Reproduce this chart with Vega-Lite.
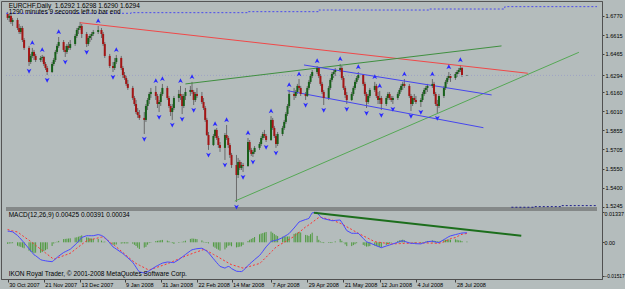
{
"$schema":"https://vega.github.io/schema/vega-lite/v6.json",
"width":601,"height":278,
"autosize":{"type":"none"},
"padding":{"left":1,"top":1,"right":23,"bottom":10},
"background":"#b4bcbc",
"config":{
 "view":{"stroke":"#555555","strokeWidth":1,"fill":null},
 "font":"Liberation Sans",
 "axis":{"labelFont":"Liberation Sans","labelFontSize":5.6,"labelColor":"#000000","domainColor":"#505050","tickColor":"#404040","tickSize":3,"grid":false,"title":null}
},
"datasets":{
"bars":[
{"d":"2007-10-30","o":1.6784,"h":1.6800,"l":1.6736,"c":1.6752,"m":0.00499,"s":0.00570,"hs":-0.00071},
{"d":"2007-10-31","o":1.6752,"h":1.6784,"l":1.6720,"c":1.6768,"m":0.00490,"s":0.00544,"hs":-0.00054},
{"d":"2007-11-01","o":1.6768,"h":1.6791,"l":1.6704,"c":1.6720,"m":0.00477,"s":0.00526,"hs":-0.00049},
{"d":"2007-11-02","o":1.6720,"h":1.6752,"l":1.6688,"c":1.6736,"m":0.00468,"s":0.00508,"hs":-0.00040},
{"d":"2007-11-05","o":1.6736,"h":1.6752,"l":1.6656,"c":1.6672,"m":0.00307,"s":0.00459,"hs":-0.00152},
{"d":"2007-11-06","o":1.6672,"h":1.6704,"l":1.6624,"c":1.6640,"m":0.00227,"s":0.00410,"hs":-0.00183},
{"d":"2007-11-07","o":1.6640,"h":1.6688,"l":1.6624,"c":1.6672,"m":0.00147,"s":0.00352,"hs":-0.00205},
{"d":"2007-11-08","o":1.6672,"h":1.6688,"l":1.6560,"c":1.6576,"m":0.00062,"s":0.00299,"hs":-0.00237},
{"d":"2007-11-09","o":1.6576,"h":1.6592,"l":1.6497,"c":1.6513,"m":-0.00022,"s":0.00245,"hs":-0.00267},
{"d":"2007-11-12","o":1.6513,"h":1.6529,"l":1.6369,"c":1.6401,"m":-0.00290,"s":0.00089,"hs":-0.00379,"f":"d"},
{"d":"2007-11-13","o":1.6401,"h":1.6465,"l":1.6385,"c":1.6449,"m":-0.00379,"s":0.00036,"hs":-0.00415},
{"d":"2007-11-14","o":1.6449,"h":1.6513,"l":1.6433,"c":1.6481,"m":-0.00463,"s":-0.00018,"hs":-0.00445,"f":"u"},
{"d":"2007-11-15","o":1.6481,"h":1.6497,"l":1.6417,"c":1.6449,"m":-0.00557,"s":-0.00071,"hs":-0.00486},
{"d":"2007-11-16","o":1.6449,"h":1.6465,"l":1.6401,"c":1.6417,"m":-0.00597,"s":-0.00134,"hs":-0.00463},
{"d":"2007-11-19","o":1.6417,"h":1.6449,"l":1.6401,"c":1.6433,"m":-0.00771,"s":-0.00303,"hs":-0.00468},
{"d":"2007-11-20","o":1.6433,"h":1.6457,"l":1.6401,"c":1.6441,"m":-0.00798,"s":-0.00361,"hs":-0.00437,"f":"u"},
{"d":"2007-11-21","o":1.6441,"h":1.6449,"l":1.6369,"c":1.6385,"m":-0.00811,"s":-0.00419,"hs":-0.00392},
{"d":"2007-11-22","o":1.6385,"h":1.6401,"l":1.6337,"c":1.6353,"m":-0.00824,"s":-0.00472,"hs":-0.00352},
{"d":"2007-11-23","o":1.6353,"h":1.6369,"l":1.6297,"c":1.6321,"m":-0.00838,"s":-0.00530,"hs":-0.00308,"f":"d"},
{"d":"2007-11-26","o":1.6321,"h":1.6401,"l":1.6313,"c":1.6385,"m":-0.00864,"s":-0.00700,"hs":-0.00164},
{"d":"2007-11-27","o":1.6385,"h":1.6433,"l":1.6369,"c":1.6417,"m":-0.00807,"s":-0.00753,"hs":-0.00054},
{"d":"2007-11-28","o":1.6417,"h":1.6497,"l":1.6401,"c":1.6481,"m":-0.00744,"s":-0.00731,"hs":-0.00013},
{"d":"2007-11-29","o":1.6481,"h":1.6544,"l":1.6465,"c":1.6529,"m":-0.00677,"s":-0.00704,"hs":0.00027},
{"d":"2007-11-30","o":1.6529,"h":1.6600,"l":1.6513,"c":1.6560,"m":-0.00615,"s":-0.00677,"hs":0.00062,"f":"u"},
{"d":"2007-12-03","o":1.6560,"h":1.6576,"l":1.6481,"c":1.6497,"m":-0.00455,"s":-0.00597,"hs":0.00142},
{"d":"2007-12-04","o":1.6497,"h":1.6529,"l":1.6441,"c":1.6481,"m":-0.00419,"s":-0.00570,"hs":0.00151,"f":"d"},
{"d":"2007-12-05","o":1.6481,"h":1.6544,"l":1.6465,"c":1.6529,"m":-0.00383,"s":-0.00544,"hs":0.00161},
{"d":"2007-12-06","o":1.6529,"h":1.6560,"l":1.6497,"c":1.6513,"m":-0.00348,"s":-0.00517,"hs":0.00169},
{"d":"2007-12-07","o":1.6513,"h":1.6576,"l":1.6497,"c":1.6544,"m":-0.00312,"s":-0.00490,"hs":0.00178},
{"d":"2007-12-10","o":1.6544,"h":1.6624,"l":1.6529,"c":1.6608,"m":-0.00111,"s":-0.00321,"hs":0.00210},
{"d":"2007-12-11","o":1.6608,"h":1.6672,"l":1.6592,"c":1.6656,"m":-0.00040,"s":-0.00263,"hs":0.00223},
{"d":"2007-12-12","o":1.6656,"h":1.6688,"l":1.6624,"c":1.6672,"m":0.00045,"s":-0.00205,"hs":0.00250},
{"d":"2007-12-13","o":1.6672,"h":1.6720,"l":1.6656,"c":1.6688,"m":0.00125,"s":-0.00152,"hs":0.00277},
{"d":"2007-12-14","o":1.6688,"h":1.6704,"l":1.6592,"c":1.6624,"m":0.00214,"s":-0.00094,"hs":0.00308},
{"d":"2007-12-17","o":1.6624,"h":1.6640,"l":1.6520,"c":1.6544,"m":0.00294,"s":0.00071,"hs":0.00223,"f":"d"},
{"d":"2007-12-18","o":1.6544,"h":1.6608,"l":1.6529,"c":1.6592,"m":0.00294,"s":0.00089,"hs":0.00205},
{"d":"2007-12-19","o":1.6592,"h":1.6624,"l":1.6560,"c":1.6608,"m":0.00294,"s":0.00107,"hs":0.00187},
{"d":"2007-12-20","o":1.6608,"h":1.6640,"l":1.6576,"c":1.6624,"m":0.00294,"s":0.00125,"hs":0.00169},
{"d":"2007-12-21","o":1.6624,"h":1.6656,"l":1.6608,"c":1.6640,"m":0.00294,"s":0.00143,"hs":0.00151},
{"d":"2007-12-24","o":1.6640,"h":1.6688,"l":1.6624,"c":1.6656,"m":0.00343,"s":0.00196,"hs":0.00147,"f":"u"},
{"d":"2007-12-26","o":1.6656,"h":1.6672,"l":1.6592,"c":1.6624,"m":0.00307,"s":0.00232,"hs":0.00075},
{"d":"2007-12-27","o":1.6624,"h":1.6640,"l":1.6529,"c":1.6544,"m":0.00263,"s":0.00241,"hs":0.00022},
{"d":"2007-12-28","o":1.6544,"h":1.6560,"l":1.6433,"c":1.6449,"m":0.00218,"s":0.00187,"hs":0.00031},
{"d":"2007-12-31","o":1.6449,"h":1.6465,"l":1.6353,"c":1.6369,"m":-0.00022,"s":0.00018,"hs":-0.00040},
{"d":"2008-01-02","o":1.6369,"h":1.6401,"l":1.6321,"c":1.6353,"m":-0.00205,"s":-0.00094,"hs":-0.00111,"f":"d"},
{"d":"2008-01-03","o":1.6353,"h":1.6433,"l":1.6337,"c":1.6401,"m":-0.00250,"s":-0.00147,"hs":-0.00103},
{"d":"2008-01-04","o":1.6401,"h":1.6457,"l":1.6385,"c":1.6433,"m":-0.00303,"s":-0.00205,"hs":-0.00098,"f":"u"},
{"d":"2008-01-07","o":1.6433,"h":1.6449,"l":1.6337,"c":1.6353,"m":-0.00450,"s":-0.00392,"hs":-0.00058},
{"d":"2008-01-08","o":1.6353,"h":1.6369,"l":1.6273,"c":1.6297,"m":-0.00499,"s":-0.00455,"hs":-0.00044},
{"d":"2008-01-09","o":1.6297,"h":1.6321,"l":1.6258,"c":1.6273,"m":-0.00566,"s":-0.00517,"hs":-0.00049},
{"d":"2008-01-10","o":1.6273,"h":1.6289,"l":1.6210,"c":1.6226,"m":-0.00628,"s":-0.00579,"hs":-0.00049},
{"d":"2008-01-11","o":1.6226,"h":1.6258,"l":1.6178,"c":1.6194,"m":-0.00691,"s":-0.00642,"hs":-0.00049},
{"d":"2008-01-14","o":1.6194,"h":1.6210,"l":1.6098,"c":1.6114,"m":-0.00891,"s":-0.00829,"hs":-0.00062},
{"d":"2008-01-15","o":1.6114,"h":1.6130,"l":1.6050,"c":1.6066,"m":-0.00998,"s":-0.00887,"hs":-0.00111},
{"d":"2008-01-16","o":1.6066,"h":1.6098,"l":1.5986,"c":1.6002,"m":-0.01110,"s":-0.00945,"hs":-0.00165},
{"d":"2008-01-17","o":1.6002,"h":1.6034,"l":1.5955,"c":1.5978,"m":-0.01225,"s":-0.00985,"hs":-0.00240},
{"d":"2008-01-18","o":1.5978,"h":1.6018,"l":1.5939,"c":1.5955,"m":-0.01319,"s":-0.01020,"hs":-0.00299},
{"d":"2008-01-21","o":1.5955,"h":1.6002,"l":1.5827,"c":1.5939,"m":-0.01368,"s":-0.01132,"hs":-0.00236,"f":"d"},
{"d":"2008-01-22","o":1.5939,"h":1.6066,"l":1.5923,"c":1.6050,"m":-0.01377,"s":-0.01172,"hs":-0.00205},
{"d":"2008-01-23","o":1.6050,"h":1.6114,"l":1.6018,"c":1.6098,"m":-0.01315,"s":-0.01208,"hs":-0.00107},
{"d":"2008-01-24","o":1.6098,"h":1.6162,"l":1.6066,"c":1.6146,"m":-0.01270,"s":-0.01234,"hs":-0.00036},
{"d":"2008-01-25","o":1.6146,"h":1.6194,"l":1.6114,"c":1.6162,"m":-0.01221,"s":-0.01203,"hs":-0.00018},
{"d":"2008-01-28","o":1.6162,"h":1.6210,"l":1.6098,"c":1.6130,"m":-0.01078,"s":-0.01132,"hs":0.00054,"f":"u"},
{"d":"2008-01-29","o":1.6130,"h":1.6146,"l":1.6034,"c":1.6066,"m":-0.01038,"s":-0.01105,"hs":0.00067},
{"d":"2008-01-30","o":1.6066,"h":1.6098,"l":1.6002,"c":1.6082,"m":-0.01003,"s":-0.01083,"hs":0.00080,"f":"d"},
{"d":"2008-01-31","o":1.6082,"h":1.6162,"l":1.6050,"c":1.6146,"m":-0.00963,"s":-0.01056,"hs":0.00093},
{"d":"2008-02-01","o":1.6146,"h":1.6226,"l":1.6130,"c":1.6194,"m":-0.00927,"s":-0.01034,"hs":0.00107,"f":"u"},
{"d":"2008-02-04","o":1.6194,"h":1.6210,"l":1.6098,"c":1.6114,"m":-0.00878,"s":-0.00954,"hs":0.00076},
{"d":"2008-02-05","o":1.6114,"h":1.6130,"l":1.6034,"c":1.6050,"m":-0.00882,"s":-0.00927,"hs":0.00045},
{"d":"2008-02-06","o":1.6050,"h":1.6066,"l":1.5970,"c":1.6002,"m":-0.00891,"s":-0.00896,"hs":0.00005},
{"d":"2008-02-07","o":1.6002,"h":1.6066,"l":1.5939,"c":1.6034,"m":-0.00900,"s":-0.00864,"hs":-0.00036,"f":"d"},
{"d":"2008-02-08","o":1.6034,"h":1.6130,"l":1.6018,"c":1.6114,"m":-0.00905,"s":-0.00833,"hs":-0.00072},
{"d":"2008-02-11","o":1.6114,"h":1.6178,"l":1.6082,"c":1.6146,"m":-0.00771,"s":-0.00740,"hs":-0.00031},
{"d":"2008-02-12","o":1.6146,"h":1.6210,"l":1.6098,"c":1.6130,"m":-0.00713,"s":-0.00709,"hs":-0.00004,"f":"u"},
{"d":"2008-02-13","o":1.6130,"h":1.6146,"l":1.5986,"c":1.6050,"m":-0.00655,"s":-0.00677,"hs":0.00022,"f":"d"},
{"d":"2008-02-14","o":1.6050,"h":1.6146,"l":1.6034,"c":1.6130,"m":-0.00602,"s":-0.00646,"hs":0.00044},
{"d":"2008-02-15","o":1.6130,"h":1.6194,"l":1.6098,"c":1.6162,"m":-0.00544,"s":-0.00615,"hs":0.00071},
{"d":"2008-02-18","o":1.6162,"h":1.6210,"l":1.6130,"c":1.6178,"m":-0.00379,"s":-0.00530,"hs":0.00151},
{"d":"2008-02-19","o":1.6178,"h":1.6242,"l":1.6146,"c":1.6162,"m":-0.00334,"s":-0.00504,"hs":0.00170,"f":"u"},
{"d":"2008-02-20","o":1.6162,"h":1.6178,"l":1.6058,"c":1.6098,"m":-0.00316,"s":-0.00477,"hs":0.00161,"f":"d"},
{"d":"2008-02-21","o":1.6098,"h":1.6162,"l":1.6082,"c":1.6146,"m":-0.00299,"s":-0.00450,"hs":0.00151},
{"d":"2008-02-22","o":1.6146,"h":1.6194,"l":1.6114,"c":1.6130,"m":-0.00285,"s":-0.00428,"hs":0.00143},
{"d":"2008-02-25","o":1.6130,"h":1.6162,"l":1.6066,"c":1.6082,"m":-0.00263,"s":-0.00348,"hs":0.00085},
{"d":"2008-02-26","o":1.6082,"h":1.6114,"l":1.6018,"c":1.6034,"m":-0.00303,"s":-0.00325,"hs":0.00022},
{"d":"2008-02-27","o":1.6034,"h":1.6050,"l":1.5923,"c":1.5939,"m":-0.00352,"s":-0.00330,"hs":-0.00022},
{"d":"2008-02-28","o":1.5939,"h":1.5955,"l":1.5811,"c":1.5819,"m":-0.00397,"s":-0.00370,"hs":-0.00027},
{"d":"2008-02-29","o":1.5819,"h":1.5843,"l":1.5700,"c":1.5739,"m":-0.00463,"s":-0.00414,"hs":-0.00049,"f":"d"},
{"d":"2008-03-03","o":1.5739,"h":1.5827,"l":1.5731,"c":1.5811,"m":-0.00731,"s":-0.00539,"hs":-0.00192},
{"d":"2008-03-04","o":1.5811,"h":1.5867,"l":1.5795,"c":1.5859,"m":-0.00820,"s":-0.00579,"hs":-0.00241,"f":"u"},
{"d":"2008-03-05","o":1.5859,"h":1.5875,"l":1.5779,"c":1.5795,"m":-0.00909,"s":-0.00619,"hs":-0.00290},
{"d":"2008-03-06","o":1.5795,"h":1.5811,"l":1.5716,"c":1.5739,"m":-0.00989,"s":-0.00659,"hs":-0.00330},
{"d":"2008-03-07","o":1.5739,"h":1.5763,"l":1.5684,"c":1.5716,"m":-0.01074,"s":-0.00704,"hs":-0.00370},
{"d":"2008-03-10","o":1.5716,"h":1.5835,"l":1.5620,"c":1.5819,"m":-0.01150,"s":-0.00833,"hs":-0.00317,"f":"d"},
{"d":"2008-03-11","o":1.5819,"h":1.5899,"l":1.5779,"c":1.5795,"m":-0.01110,"s":-0.00873,"hs":-0.00237,"f":"u"},
{"d":"2008-03-12","o":1.5795,"h":1.5811,"l":1.5716,"c":1.5739,"m":-0.01074,"s":-0.00918,"hs":-0.00156},
{"d":"2008-03-13","o":1.5739,"h":1.5755,"l":1.5636,"c":1.5660,"m":-0.01101,"s":-0.00963,"hs":-0.00138},
{"d":"2008-03-14","o":1.5660,"h":1.5676,"l":1.5556,"c":1.5580,"m":-0.01172,"s":-0.00994,"hs":-0.00178},
{"d":"2008-03-17","o":1.5580,"h":1.5660,"l":1.5285,"c":1.5500,"m":-0.01288,"s":-0.01061,"hs":-0.00227,"f":"d"},
{"d":"2008-03-18","o":1.5500,"h":1.5636,"l":1.5476,"c":1.5604,"m":-0.01297,"s":-0.01083,"hs":-0.00214},
{"d":"2008-03-19","o":1.5604,"h":1.5620,"l":1.5540,"c":1.5556,"m":-0.01301,"s":-0.01105,"hs":-0.00196},
{"d":"2008-03-20","o":1.5556,"h":1.5604,"l":1.5540,"c":1.5580,"m":-0.01306,"s":-0.01127,"hs":-0.00179},
{"d":"2008-03-21","o":1.5580,"h":1.5596,"l":1.5524,"c":1.5572,"m":-0.01266,"s":-0.01150,"hs":-0.00116,"f":"d"},
{"d":"2008-03-24","o":1.5572,"h":1.5795,"l":1.5564,"c":1.5763,"m":-0.01038,"s":-0.01096,"hs":0.00058,"f":"u"},
{"d":"2008-03-25","o":1.5763,"h":1.5779,"l":1.5684,"c":1.5700,"m":-0.00963,"s":-0.01074,"hs":0.00111},
{"d":"2008-03-26","o":1.5700,"h":1.5716,"l":1.5652,"c":1.5668,"m":-0.00900,"s":-0.01052,"hs":0.00152},
{"d":"2008-03-27","o":1.5668,"h":1.5700,"l":1.5644,"c":1.5684,"m":-0.00838,"s":-0.01029,"hs":0.00191,"f":"d"},
{"d":"2008-03-28","o":1.5684,"h":1.5731,"l":1.5668,"c":1.5716,"m":-0.00771,"s":-0.01007,"hs":0.00236},
{"d":"2008-03-31","o":1.5716,"h":1.5763,"l":1.5700,"c":1.5747,"m":-0.00588,"s":-0.00945,"hs":0.00357},
{"d":"2008-04-01","o":1.5747,"h":1.5811,"l":1.5731,"c":1.5795,"m":-0.00499,"s":-0.00887,"hs":0.00388},
{"d":"2008-04-02","o":1.5795,"h":1.5843,"l":1.5779,"c":1.5827,"m":-0.00401,"s":-0.00811,"hs":0.00410},
{"d":"2008-04-03","o":1.5827,"h":1.5859,"l":1.5795,"c":1.5811,"m":-0.00299,"s":-0.00735,"hs":0.00436},
{"d":"2008-04-04","o":1.5811,"h":1.5827,"l":1.5763,"c":1.5779,"m":-0.00205,"s":-0.00664,"hs":0.00459,"f":"d"},
{"d":"2008-04-07","o":1.5779,"h":1.5970,"l":1.5771,"c":1.5939,"m":0.00040,"s":-0.00437,"hs":0.00477,"f":"u"},
{"d":"2008-04-08","o":1.5939,"h":1.5955,"l":1.5859,"c":1.5875,"m":0.00058,"s":-0.00365,"hs":0.00423},
{"d":"2008-04-09","o":1.5875,"h":1.5891,"l":1.5795,"c":1.5811,"m":0.00076,"s":-0.00290,"hs":0.00366},
{"d":"2008-04-10","o":1.5811,"h":1.5827,"l":1.5716,"c":1.5747,"m":0.00094,"s":-0.00218,"hs":0.00312,"f":"d"},
{"d":"2008-04-11","o":1.5747,"h":1.5843,"l":1.5731,"c":1.5827,"m":0.00111,"s":-0.00165,"hs":0.00276},
{"d":"2008-04-14","o":1.5827,"h":1.5891,"l":1.5811,"c":1.5875,"m":0.00209,"s":-0.00040,"hs":0.00249},
{"d":"2008-04-15","o":1.5875,"h":1.5939,"l":1.5859,"c":1.5923,"m":0.00258,"s":0.00000,"hs":0.00258},
{"d":"2008-04-16","o":1.5923,"h":1.6002,"l":1.5907,"c":1.5986,"m":0.00299,"s":0.00040,"hs":0.00259},
{"d":"2008-04-17","o":1.5986,"h":1.6066,"l":1.5970,"c":1.6050,"m":0.00343,"s":0.00085,"hs":0.00258},
{"d":"2008-04-18","o":1.6050,"h":1.6178,"l":1.6034,"c":1.6146,"m":0.00392,"s":0.00129,"hs":0.00263,"f":"u"},
{"d":"2008-04-21","o":1.6146,"h":1.6194,"l":1.6098,"c":1.6130,"m":0.00637,"s":0.00263,"hs":0.00374},
{"d":"2008-04-22","o":1.6130,"h":1.6178,"l":1.6114,"c":1.6162,"m":0.00726,"s":0.00325,"hs":0.00401},
{"d":"2008-04-23","o":1.6162,"h":1.6226,"l":1.6146,"c":1.6210,"m":0.00815,"s":0.00383,"hs":0.00432},
{"d":"2008-04-24","o":1.6210,"h":1.6265,"l":1.6178,"c":1.6194,"m":0.00905,"s":0.00446,"hs":0.00459,"f":"u"},
{"d":"2008-04-25","o":1.6194,"h":1.6210,"l":1.6130,"c":1.6146,"m":0.00936,"s":0.00499,"hs":0.00437},
{"d":"2008-04-28","o":1.6146,"h":1.6162,"l":1.6098,"c":1.6130,"m":0.01016,"s":0.00686,"hs":0.00330,"f":"d"},
{"d":"2008-04-29","o":1.6130,"h":1.6210,"l":1.6122,"c":1.6194,"m":0.01038,"s":0.00726,"hs":0.00312},
{"d":"2008-04-30","o":1.6194,"h":1.6258,"l":1.6178,"c":1.6242,"m":0.01065,"s":0.00780,"hs":0.00285},
{"d":"2008-05-01","o":1.6242,"h":1.6305,"l":1.6226,"c":1.6289,"m":0.01194,"s":0.00833,"hs":0.00361},
{"d":"2008-05-02","o":1.6289,"h":1.6337,"l":1.6273,"c":1.6321,"m":0.01315,"s":0.00887,"hs":0.00428},
{"d":"2008-05-05","o":1.6321,"h":1.6369,"l":1.6305,"c":1.6353,"m":0.01337,"s":0.01052,"hs":0.00285,"f":"u"},
{"d":"2008-05-06","o":1.6353,"h":1.6361,"l":1.6273,"c":1.6289,"m":0.01217,"s":0.01105,"hs":0.00112},
{"d":"2008-05-07","o":1.6289,"h":1.6305,"l":1.6210,"c":1.6226,"m":0.01150,"s":0.01114,"hs":0.00036},
{"d":"2008-05-08","o":1.6226,"h":1.6242,"l":1.6146,"c":1.6162,"m":0.01074,"s":0.01101,"hs":-0.00027},
{"d":"2008-05-09","o":1.6162,"h":1.6178,"l":1.6058,"c":1.6114,"m":0.01052,"s":0.01087,"hs":-0.00035,"f":"d"},
{"d":"2008-05-12","o":1.6114,"h":1.6210,"l":1.6098,"c":1.6194,"m":0.00998,"s":0.01025,"hs":-0.00027},
{"d":"2008-05-13","o":1.6194,"h":1.6273,"l":1.6178,"c":1.6258,"m":0.00980,"s":0.01012,"hs":-0.00032},
{"d":"2008-05-14","o":1.6258,"h":1.6321,"l":1.6242,"c":1.6305,"m":0.00962,"s":0.00994,"hs":-0.00032},
{"d":"2008-05-15","o":1.6305,"h":1.6337,"l":1.6273,"c":1.6321,"m":0.00967,"s":0.00967,"hs":0.00000},
{"d":"2008-05-16","o":1.6321,"h":1.6353,"l":1.6289,"c":1.6337,"m":0.00976,"s":0.00936,"hs":0.00040},
{"d":"2008-05-19","o":1.6337,"h":1.6385,"l":1.6321,"c":1.6353,"m":0.00994,"s":0.00847,"hs":0.00147,"f":"u"},
{"d":"2008-05-20","o":1.6353,"h":1.6369,"l":1.6258,"c":1.6273,"m":0.00882,"s":0.00815,"hs":0.00067},
{"d":"2008-05-21","o":1.6273,"h":1.6289,"l":1.6178,"c":1.6194,"m":0.00766,"s":0.00775,"hs":-0.00009},
{"d":"2008-05-22","o":1.6194,"h":1.6210,"l":1.6114,"c":1.6138,"m":0.00642,"s":0.00735,"hs":-0.00093},
{"d":"2008-05-23","o":1.6138,"h":1.6162,"l":1.6066,"c":1.6098,"m":0.00521,"s":0.00691,"hs":-0.00170,"f":"d"},
{"d":"2008-05-26","o":1.6098,"h":1.6162,"l":1.6090,"c":1.6146,"m":0.00401,"s":0.00570,"hs":-0.00169},
{"d":"2008-05-27","o":1.6146,"h":1.6210,"l":1.6130,"c":1.6194,"m":0.00401,"s":0.00526,"hs":-0.00125},
{"d":"2008-05-28","o":1.6194,"h":1.6258,"l":1.6178,"c":1.6242,"m":0.00401,"s":0.00486,"hs":-0.00085},
{"d":"2008-05-29","o":1.6242,"h":1.6289,"l":1.6226,"c":1.6273,"m":0.00401,"s":0.00441,"hs":-0.00040},
{"d":"2008-05-30","o":1.6273,"h":1.6321,"l":1.6258,"c":1.6297,"m":0.00401,"s":0.00401,"hs":0.00000,"f":"u"},
{"d":"2008-06-02","o":1.6297,"h":1.6305,"l":1.6210,"c":1.6226,"m":0.00174,"s":0.00290,"hs":-0.00116},
{"d":"2008-06-03","o":1.6226,"h":1.6242,"l":1.6130,"c":1.6146,"m":0.00098,"s":0.00250,"hs":-0.00152},
{"d":"2008-06-04","o":1.6146,"h":1.6162,"l":1.6034,"c":1.6082,"m":0.00022,"s":0.00214,"hs":-0.00192,"f":"d"},
{"d":"2008-06-05","o":1.6082,"h":1.6146,"l":1.6066,"c":1.6130,"m":-0.00004,"s":0.00178,"hs":-0.00182},
{"d":"2008-06-06","o":1.6130,"h":1.6194,"l":1.6114,"c":1.6178,"m":-0.00031,"s":0.00138,"hs":-0.00169},
{"d":"2008-06-09","o":1.6178,"h":1.6242,"l":1.6162,"c":1.6210,"m":-0.00120,"s":0.00027,"hs":-0.00147,"f":"u"},
{"d":"2008-06-10","o":1.6210,"h":1.6226,"l":1.6114,"c":1.6130,"m":-0.00152,"s":0.00018,"hs":-0.00170},
{"d":"2008-06-11","o":1.6130,"h":1.6162,"l":1.6066,"c":1.6098,"m":-0.00183,"s":0.00004,"hs":-0.00187},
{"d":"2008-06-12","o":1.6098,"h":1.6170,"l":1.6066,"c":1.6114,"m":-0.00214,"s":-0.00004,"hs":-0.00210,"f":"u"},
{"d":"2008-06-13","o":1.6114,"h":1.6130,"l":1.6018,"c":1.6066,"m":-0.00241,"s":-0.00013,"hs":-0.00228,"f":"d"},
{"d":"2008-06-16","o":1.6066,"h":1.6130,"l":1.6050,"c":1.6114,"m":-0.00165,"s":-0.00045,"hs":-0.00120},
{"d":"2008-06-17","o":1.6114,"h":1.6162,"l":1.6098,"c":1.6146,"m":-0.00143,"s":-0.00053,"hs":-0.00090},
{"d":"2008-06-18","o":1.6146,"h":1.6162,"l":1.6098,"c":1.6114,"m":-0.00120,"s":-0.00062,"hs":-0.00058},
{"d":"2008-06-19","o":1.6114,"h":1.6130,"l":1.6082,"c":1.6098,"m":-0.00094,"s":-0.00076,"hs":-0.00018},
{"d":"2008-06-20","o":1.6098,"h":1.6130,"l":1.6066,"c":1.6114,"m":-0.00071,"s":-0.00071,"hs":0.00000,"f":"d"},
{"d":"2008-06-23","o":1.6114,"h":1.6162,"l":1.6098,"c":1.6146,"m":0.00000,"s":-0.00062,"hs":0.00062},
{"d":"2008-06-24","o":1.6146,"h":1.6194,"l":1.6130,"c":1.6178,"m":0.00027,"s":-0.00058,"hs":0.00085},
{"d":"2008-06-25","o":1.6178,"h":1.6226,"l":1.6162,"c":1.6210,"m":0.00049,"s":-0.00053,"hs":0.00102},
{"d":"2008-06-26","o":1.6210,"h":1.6242,"l":1.6178,"c":1.6226,"m":0.00067,"s":-0.00049,"hs":0.00116},
{"d":"2008-06-27","o":1.6226,"h":1.6265,"l":1.6194,"c":1.6210,"m":0.00045,"s":-0.00045,"hs":0.00090,"f":"u"},
{"d":"2008-06-30","o":1.6210,"h":1.6226,"l":1.6114,"c":1.6130,"m":-0.00027,"s":-0.00040,"hs":0.00013},
{"d":"2008-07-01","o":1.6130,"h":1.6146,"l":1.6010,"c":1.6066,"m":-0.00045,"s":-0.00036,"hs":-0.00009,"f":"d"},
{"d":"2008-07-02","o":1.6066,"h":1.6130,"l":1.6050,"c":1.6114,"m":-0.00049,"s":-0.00036,"hs":-0.00013},
{"d":"2008-07-03","o":1.6114,"h":1.6146,"l":1.6082,"c":1.6098,"m":-0.00053,"s":-0.00031,"hs":-0.00022},
{"d":"2008-07-04","o":1.6098,"h":1.6130,"l":1.6066,"c":1.6082,"m":-0.00062,"s":-0.00031,"hs":-0.00031},
{"d":"2008-07-07","o":1.6082,"h":1.6114,"l":1.6042,"c":1.6098,"m":-0.00071,"s":-0.00027,"hs":-0.00044,"f":"d"},
{"d":"2008-07-08","o":1.6098,"h":1.6162,"l":1.6082,"c":1.6146,"m":-0.00045,"s":-0.00027,"hs":-0.00018},
{"d":"2008-07-09","o":1.6146,"h":1.6194,"l":1.6130,"c":1.6178,"m":-0.00022,"s":-0.00027,"hs":0.00005},
{"d":"2008-07-10","o":1.6178,"h":1.6210,"l":1.6146,"c":1.6194,"m":0.00004,"s":-0.00031,"hs":0.00035},
{"d":"2008-07-11","o":1.6194,"h":1.6226,"l":1.6162,"c":1.6210,"m":0.00027,"s":-0.00031,"hs":0.00058},
{"d":"2008-07-14","o":1.6210,"h":1.6265,"l":1.6194,"c":1.6226,"m":0.00049,"s":-0.00036,"hs":0.00085,"f":"u"},
{"d":"2008-07-15","o":1.6226,"h":1.6242,"l":1.6130,"c":1.6146,"m":0.00031,"s":-0.00040,"hs":0.00071},
{"d":"2008-07-16","o":1.6146,"h":1.6162,"l":1.6050,"c":1.6066,"m":0.00013,"s":-0.00045,"hs":0.00058},
{"d":"2008-07-17","o":1.6066,"h":1.6098,"l":1.5994,"c":1.6050,"m":-0.00004,"s":-0.00045,"hs":0.00041,"f":"d"},
{"d":"2008-07-18","o":1.6050,"h":1.6146,"l":1.6034,"c":1.6130,"m":-0.00009,"s":-0.00045,"hs":0.00036},
{"d":"2008-07-21","o":1.6130,"h":1.6210,"l":1.6114,"c":1.6194,"m":0.00120,"s":0.00020,"hs":0.00100},
{"d":"2008-07-22","o":1.6194,"h":1.6258,"l":1.6178,"c":1.6242,"m":0.00165,"s":0.00055,"hs":0.00110},
{"d":"2008-07-23","o":1.6242,"h":1.6289,"l":1.6226,"c":1.6273,"m":0.00209,"s":0.00090,"hs":0.00119},
{"d":"2008-07-24","o":1.6273,"h":1.6321,"l":1.6258,"c":1.6289,"m":0.00254,"s":0.00125,"hs":0.00129,"f":"u"},
{"d":"2008-07-25","o":1.6289,"h":1.6305,"l":1.6242,"c":1.6273,"m":0.00285,"s":0.00165,"hs":0.00120},
{"d":"2008-07-28","o":1.6273,"h":1.6321,"l":1.6258,"c":1.6305,"m":0.00343,"s":0.00210,"hs":0.00133},
{"d":"2008-07-29","o":1.6305,"h":1.6337,"l":1.6281,"c":1.6321,"m":0.00361,"s":0.00250,"hs":0.00111},
{"d":"2008-07-30","o":1.6321,"h":1.6353,"l":1.6305,"c":1.6337,"m":0.00379,"s":0.00290,"hs":0.00089},
{"d":"2008-07-31","o":1.6337,"h":1.6377,"l":1.6321,"c":1.6353,"m":0.00397,"s":0.00320,"hs":0.00077,"f":"u"},
{"d":"2008-08-01","o":1.6353,"h":1.6361,"l":1.6281,"c":1.6297,"m":0.00414,"s":0.00360,"hs":0.00054},
{"d":"2008-08-04","o":1.6292,"h":1.6298,"l":1.6290,"c":1.6294,"m":0.00425,"s":0.00391,"hs":0.00034}
],
"ln":[
{"id":"r","d":"2007-12-13","p":1.6714},{"id":"r","d":"2008-09-10","p":1.6311},
{"id":"g1","d":"2008-02-15","p":1.6226},{"id":"g1","d":"2008-08-25","p":1.6529},
{"id":"g2","d":"2008-03-16","p":1.5292},{"id":"g2","d":"2008-10-11","p":1.6478},
{"id":"b1","d":"2008-04-27","p":1.6377},{"id":"b1","d":"2008-08-19","p":1.6138},
{"id":"b2","d":"2008-04-17","p":1.6172},{"id":"b2","d":"2008-08-14","p":1.5877},
{"id":"top","d":"2007-10-29","p":1.6789},{"id":"top","d":"2008-01-13","p":1.6794},{"id":"top","d":"2008-03-24","p":1.6802},{"id":"top","d":"2008-05-06","p":1.6815},{"id":"top","d":"2008-07-12","p":1.6823},{"id":"top","d":"2008-08-27","p":1.6842},{"id":"top","d":"2008-10-22","p":1.6842},
{"id":"bot","d":"2008-08-31","p":1.5243},{"id":"bot","d":"2008-09-14","p":1.5248},{"id":"bot","d":"2008-09-30","p":1.5256},{"id":"bot","d":"2008-10-22","p":1.5256}
],
"hl":[
{"id":"bid","d":"2007-10-29","d2":"2008-10-22","p":1.6294},
{"id":"pbot","d":"2007-10-29","d2":"2008-10-22","p":1.5237}
],
"mhl":[{"d":"2007-10-29","d2":"2008-10-22","v":0.01439}],
"mtl":[{"d":"2008-05-03","v":0.01319},{"d":"2008-09-06","v":0.00294}],
"notes":[
{"d":"2007-10-30","p":1.6851,"t":"EURCHF,Daily\u00a0 1.6292 1.6298 1.6290 1.6294"},
{"d":"2007-10-30","p":1.6796,"t":"1290 minutes 9 seconds left to bar end"}
],
"mnotes":[
{"d":"2007-10-30","v":0.01217,"t":"MACD(12,26,9) 0.00425 0.00391 0.00034"},
{"d":"2007-10-30","v":-0.0139,"t":"IKON Royal Trader, © 2001-2008 MetaQuotes Software Corp."}
]
},
"encoding":{
 "x":{"field":"d","type":"temporal",
  "scale":{"type":"utc","domain":[{"year":2007,"month":10,"date":29,"utc":true},{"year":2008,"month":10,"date":22,"utc":true}],"nice":false},
  "axis":{"orient":"bottom","title":null,"format":"%-d %b %Y","labelFontSize":5.6,
   "values":[{"year":2007,"month":10,"date":30,"utc":true},{"year":2007,"month":11,"date":21,"utc":true},{"year":2007,"month":12,"date":13,"utc":true},{"year":2008,"month":1,"date":9,"utc":true},{"year":2008,"month":1,"date":31,"utc":true},{"year":2008,"month":2,"date":22,"utc":true},{"year":2008,"month":3,"date":14,"utc":true},{"year":2008,"month":4,"date":7,"utc":true},{"year":2008,"month":4,"date":29,"utc":true},{"year":2008,"month":5,"date":21,"utc":true},{"year":2008,"month":6,"date":12,"utc":true},{"year":2008,"month":7,"date":4,"utc":true},{"year":2008,"month":7,"date":28,"utc":true}],
   "labelAlign":"left","labelBaseline":"top","labelPadding":0,"labelOffset":1,"tickSize":3,"labelOverlap":false,"labelFlush":false}}
},
"layer":[
 {"layer":[
  {"data":{"name":"bars"},
   "mark":{"type":"rule","color":"#6a6a6a","strokeWidth":1},
   "encoding":{"y":{"field":"l","type":"quantitative","scale":{"domain":[1.5237,1.6887],"range":[207,0],"nice":false,"zero":false},
     "axis":{"orient":"right","title":null,"values":[1.5245,1.54,1.555,1.5705,1.5855,1.601,1.616,1.6294,1.6465,1.6615,1.677],"format":".4f","labelPadding":1,"tickSize":2,"labelBaseline":"middle","labelOffset":{"condition":{"test":"datum.value < 1.53","value":-1.5},"value":0},"labelFlush":false,"labelOverlap":false}},
    "y2":{"field":"h"}}},
  {"data":{"name":"hl"},"transform":[{"filter":"datum.id=='bid'"}],
   "mark":{"type":"rule","color":"#9ea4c4","strokeWidth":1,"strokeDash":[1,2]},
   "encoding":{"x2":{"field":"d2"},"y":{"field":"p","type":"quantitative","scale":{"domain":[1.5237,1.6887],"range":[207,0],"nice":false,"zero":false},
     "axis":{"orient":"right","title":null,"values":[1.5245,1.54,1.555,1.5705,1.5855,1.601,1.616,1.6294,1.6465,1.6615,1.677],"format":".4f","labelPadding":1,"tickSize":2,"labelBaseline":"middle","labelOffset":{"condition":{"test":"datum.value < 1.53","value":-1.5},"value":0},"labelFlush":false,"labelOverlap":false}}}},
  {"data":{"name":"hl"},"transform":[{"filter":"datum.id=='pbot'"}],
   "mark":{"type":"rule","color":"#555555","strokeWidth":1},
   "encoding":{"x2":{"field":"d2"},"y":{"field":"p","type":"quantitative","scale":{"domain":[1.5237,1.6887],"range":[207,0],"nice":false,"zero":false},
     "axis":{"orient":"right","title":null,"values":[1.5245,1.54,1.555,1.5705,1.5855,1.601,1.616,1.6294,1.6465,1.6615,1.677],"format":".4f","labelPadding":1,"tickSize":2,"labelBaseline":"middle","labelOffset":{"condition":{"test":"datum.value < 1.53","value":-1.5},"value":0},"labelFlush":false,"labelOverlap":false}}}},
  {"data":{"name":"ln"},"transform":[{"filter":"datum.id=='top' || datum.id=='bot'"}],
   "mark":{"type":"line","interpolate":"step-after","strokeWidth":1,"strokeDash":[2,2]},
   "encoding":{"y":{"field":"p","type":"quantitative","scale":{"domain":[1.5237,1.6887],"range":[207,0],"nice":false,"zero":false},
     "axis":{"orient":"right","title":null,"values":[1.5245,1.54,1.555,1.5705,1.5855,1.601,1.616,1.6294,1.6465,1.6615,1.677],"format":".4f","labelPadding":1,"tickSize":2,"labelBaseline":"middle","labelOffset":{"condition":{"test":"datum.value < 1.53","value":-1.5},"value":0},"labelFlush":false,"labelOverlap":false}},
    "detail":{"field":"id"},
    "color":{"field":"id","type":"nominal","scale":{"domain":["r","g1","g2","b1","b2","top","bot"],"range":["#f04848","#3f8f3f","#55a855","#4646ee","#4646ee","#4a4aee","#1e1e8c"]},"legend":null}}},
  {"data":{"name":"ln"},"transform":[{"filter":"datum.id!='top' && datum.id!='bot'"}],
   "mark":{"type":"line","strokeWidth":1},
   "encoding":{"y":{"field":"p","type":"quantitative","scale":{"domain":[1.5237,1.6887],"range":[207,0],"nice":false,"zero":false},
     "axis":{"orient":"right","title":null,"values":[1.5245,1.54,1.555,1.5705,1.5855,1.601,1.616,1.6294,1.6465,1.6615,1.677],"format":".4f","labelPadding":1,"tickSize":2,"labelBaseline":"middle","labelOffset":{"condition":{"test":"datum.value < 1.53","value":-1.5},"value":0},"labelFlush":false,"labelOverlap":false}},
    "detail":{"field":"id"},
    "color":{"field":"id","type":"nominal","scale":{"domain":["r","g1","g2","b1","b2","top","bot"],"range":["#f04848","#3f8f3f","#55a855","#4646ee","#4646ee","#4a4aee","#1e1e8c"]},"legend":null}}},
  {"data":{"name":"bars"},
   "mark":{"type":"bar","size":2},
   "encoding":{"y":{"field":"o","type":"quantitative","scale":{"domain":[1.5237,1.6887],"range":[207,0],"nice":false,"zero":false},
     "axis":{"orient":"right","title":null,"values":[1.5245,1.54,1.555,1.5705,1.5855,1.601,1.616,1.6294,1.6465,1.6615,1.677],"format":".4f","labelPadding":1,"tickSize":2,"labelBaseline":"middle","labelOffset":{"condition":{"test":"datum.value < 1.53","value":-1.5},"value":0},"labelFlush":false,"labelOverlap":false}},
    "y2":{"field":"c"},
    "color":{"condition":{"test":"datum.c >= datum.o","value":"#17601a"},"value":"#a31515"}}},
  {"data":{"name":"bars"},"transform":[{"filter":"datum.f=='u'"}],
   "mark":{"type":"point","shape":"M0,-1L0.9,0.8L0,0.35L-0.9,0.8Z","filled":true,"size":28,"color":"#2b2bff","opacity":1,"yOffset":-5},
   "encoding":{"y":{"field":"h","type":"quantitative","scale":{"domain":[1.5237,1.6887],"range":[207,0],"nice":false,"zero":false},
     "axis":{"orient":"right","title":null,"values":[1.5245,1.54,1.555,1.5705,1.5855,1.601,1.616,1.6294,1.6465,1.6615,1.677],"format":".4f","labelPadding":1,"tickSize":2,"labelBaseline":"middle","labelOffset":{"condition":{"test":"datum.value < 1.53","value":-1.5},"value":0},"labelFlush":false,"labelOverlap":false}}}},
  {"data":{"name":"bars"},"transform":[{"filter":"datum.f=='d'"}],
   "mark":{"type":"point","shape":"M0,1L0.9,-0.8L0,-0.35L-0.9,-0.8Z","filled":true,"size":28,"color":"#2b2bff","opacity":1,"yOffset":5},
   "encoding":{"y":{"field":"l","type":"quantitative","scale":{"domain":[1.5237,1.6887],"range":[207,0],"nice":false,"zero":false},
     "axis":{"orient":"right","title":null,"values":[1.5245,1.54,1.555,1.5705,1.5855,1.601,1.616,1.6294,1.6465,1.6615,1.677],"format":".4f","labelPadding":1,"tickSize":2,"labelBaseline":"middle","labelOffset":{"condition":{"test":"datum.value < 1.53","value":-1.5},"value":0},"labelFlush":false,"labelOverlap":false}}}},
  {"data":{"name":"notes"},
   "mark":{"type":"text","align":"left","baseline":"middle","fontSize":6.5,"color":"#000000","dx":1},
   "encoding":{"y":{"field":"p","type":"quantitative","scale":{"domain":[1.5237,1.6887],"range":[207,0],"nice":false,"zero":false},
     "axis":{"orient":"right","title":null,"values":[1.5245,1.54,1.555,1.5705,1.5855,1.601,1.616,1.6294,1.6465,1.6615,1.677],"format":".4f","labelPadding":1,"tickSize":2,"labelBaseline":"middle","labelOffset":{"condition":{"test":"datum.value < 1.53","value":-1.5},"value":0},"labelFlush":false,"labelOverlap":false}},
    "text":{"field":"t"}}}
 ]},
 {"layer":[
  {"data":{"name":"bars"},
   "mark":{"type":"rule","color":"#4e9a3e","strokeWidth":1},
   "encoding":{"y":{"field":"hs","type":"quantitative","scale":{"domain":[-0.01635,0.01439],"range":[278,209],"nice":false,"zero":false},
     "axis":{"orient":"right","title":null,"values":[0.01337,0,-0.01517],"labelExpr":"datum.value == 0 ? '0.00' : format(datum.value, '.5f')","labelFontSize":{"condition":{"test":"datum.value < 0","value":4.8},"value":5.4},"labelPadding":0,"tickSize":2,"labelBaseline":"middle","labelOffset":{"condition":{"test":"datum.value > 0.01","value":1.5},"value":0},"labelFlush":false,"labelOverlap":false}},
    "y2":{"datum":0}}},
  {"data":{"name":"mhl"},
   "mark":{"type":"rule","color":"#555555","strokeWidth":1},
   "encoding":{"x2":{"field":"d2"},"y":{"field":"v","type":"quantitative","scale":{"domain":[-0.01635,0.01439],"range":[278,209],"nice":false,"zero":false},
     "axis":{"orient":"right","title":null,"values":[0.01337,0,-0.01517],"labelExpr":"datum.value == 0 ? '0.00' : format(datum.value, '.5f')","labelFontSize":{"condition":{"test":"datum.value < 0","value":4.8},"value":5.4},"labelPadding":0,"tickSize":2,"labelBaseline":"middle","labelOffset":{"condition":{"test":"datum.value > 0.01","value":1.5},"value":0},"labelFlush":false,"labelOverlap":false}}}},
  {"data":{"name":"bars"},
   "mark":{"type":"line","color":"#ff3030","strokeWidth":1,"strokeDash":[2,2]},
   "encoding":{"y":{"field":"s","type":"quantitative","scale":{"domain":[-0.01635,0.01439],"range":[278,209],"nice":false,"zero":false},
     "axis":{"orient":"right","title":null,"values":[0.01337,0,-0.01517],"labelExpr":"datum.value == 0 ? '0.00' : format(datum.value, '.5f')","labelFontSize":{"condition":{"test":"datum.value < 0","value":4.8},"value":5.4},"labelPadding":0,"tickSize":2,"labelBaseline":"middle","labelOffset":{"condition":{"test":"datum.value > 0.01","value":1.5},"value":0},"labelFlush":false,"labelOverlap":false}}}},
  {"data":{"name":"bars"},
   "mark":{"type":"line","color":"#4848ff","strokeWidth":1},
   "encoding":{"y":{"field":"m","type":"quantitative","scale":{"domain":[-0.01635,0.01439],"range":[278,209],"nice":false,"zero":false},
     "axis":{"orient":"right","title":null,"values":[0.01337,0,-0.01517],"labelExpr":"datum.value == 0 ? '0.00' : format(datum.value, '.5f')","labelFontSize":{"condition":{"test":"datum.value < 0","value":4.8},"value":5.4},"labelPadding":0,"tickSize":2,"labelBaseline":"middle","labelOffset":{"condition":{"test":"datum.value > 0.01","value":1.5},"value":0},"labelFlush":false,"labelOverlap":false}}}},
  {"data":{"name":"mtl"},
   "mark":{"type":"line","color":"#1c6e1c","strokeWidth":2},
   "encoding":{"y":{"field":"v","type":"quantitative","scale":{"domain":[-0.01635,0.01439],"range":[278,209],"nice":false,"zero":false},
     "axis":{"orient":"right","title":null,"values":[0.01337,0,-0.01517],"labelExpr":"datum.value == 0 ? '0.00' : format(datum.value, '.5f')","labelFontSize":{"condition":{"test":"datum.value < 0","value":4.8},"value":5.4},"labelPadding":0,"tickSize":2,"labelBaseline":"middle","labelOffset":{"condition":{"test":"datum.value > 0.01","value":1.5},"value":0},"labelFlush":false,"labelOverlap":false}}}},
  {"data":{"name":"mnotes"},
   "mark":{"type":"text","align":"left","baseline":"middle","fontSize":6.5,"color":"#000000","dx":1},
   "encoding":{"y":{"field":"v","type":"quantitative","scale":{"domain":[-0.01635,0.01439],"range":[278,209],"nice":false,"zero":false},
     "axis":{"orient":"right","title":null,"values":[0.01337,0,-0.01517],"labelExpr":"datum.value == 0 ? '0.00' : format(datum.value, '.5f')","labelFontSize":{"condition":{"test":"datum.value < 0","value":4.8},"value":5.4},"labelPadding":0,"tickSize":2,"labelBaseline":"middle","labelOffset":{"condition":{"test":"datum.value > 0.01","value":1.5},"value":0},"labelFlush":false,"labelOverlap":false}},
    "text":{"field":"t"}}}
 ]}
],
"resolve":{"scale":{"y":"independent"},"axis":{"y":"independent"}}
}
